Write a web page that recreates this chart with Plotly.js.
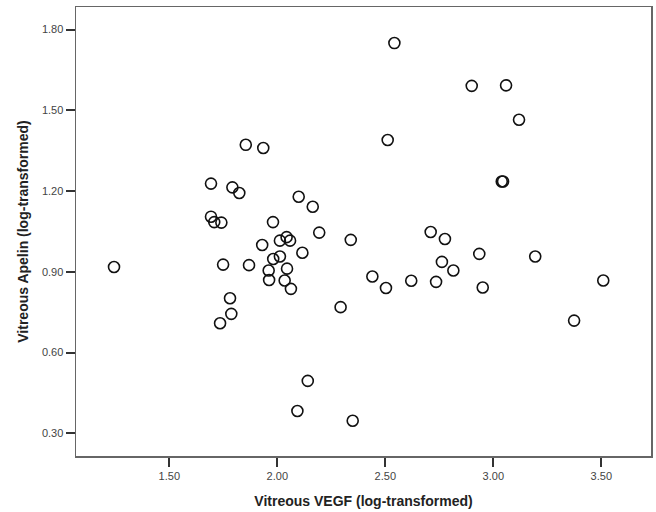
<!DOCTYPE html>
<html>
<head>
<meta charset="utf-8">
<script src="https://cdn.plot.ly/plotly-3.0.1.min.js"></script>
<style>html,body{margin:0;padding:0;background:#fff;}#chart{width:656px;height:512px;}</style>
</head>
<body>
<div id="chart"></div>
<script>
const vegf = [1.244,1.693,1.693,1.708,1.741,1.749,1.735,1.781,1.787,1.792,1.824,1.854,1.869,1.935,1.930,1.960,1.962,1.980,1.981,2.012,2.012,2.043,2.059,2.045,2.034,2.063,2.099,2.116,2.164,2.194,2.093,2.141,2.293,2.340,2.349,2.440,2.503,2.511,2.542,2.620,2.710,2.735,2.762,2.776,2.815,2.900,2.935,2.951,3.039,3.045,3.059,3.119,3.194,3.374,3.509];
const apelin = [0.918,1.228,1.105,1.085,1.083,0.927,0.709,0.802,0.744,1.214,1.193,1.372,0.925,1.360,1.000,0.905,0.870,1.085,0.948,0.957,1.016,1.029,1.016,0.912,0.868,0.837,1.179,0.971,1.142,1.046,0.383,0.495,0.769,1.019,0.347,0.883,0.840,1.390,1.750,0.867,1.048,0.863,0.937,1.022,0.905,1.591,0.967,0.842,1.236,1.236,1.593,1.465,0.957,0.719,0.868];
const xTicks = [1.5,2.0,2.5,3.0,3.5];
const yTicks = [0.3,0.6,0.9,1.2,1.5,1.8];
const xTitle = 'Vitreous VEGF (log-transformed)';
const yTitle = 'Vitreous Apelin (log-transformed)';

const trace = {
  x: vegf, y: apelin, type: 'scatter', mode: 'markers',
  marker: {symbol: 'circle-open', size: 11, color: '#111', line: {width: 1.6, color: '#111'}},
  hoverinfo: 'skip'
};
const axisCommon = {
  showgrid: false, zeroline: false, showline: true, mirror: true,
  linecolor: '#666', linewidth: 1.5, ticks: 'outside', ticklen: 9, tickwidth: 1.8, tickcolor: '#333',
  tickformat: '.2f', tickfont: {family: 'Liberation Sans, Arial, sans-serif', size: 11, color: '#444'}
};
const layout = {
  width: 656, height: 512,
  margin: {l: 76, r: 5, t: 7, b: 56},
  paper_bgcolor: '#fff', plot_bgcolor: '#fff',
  showlegend: false,
  xaxis: Object.assign({}, axisCommon, {
    range: [1.068, 3.730], tickvals: xTicks,
    title: {text: xTitle, standoff: 15, font: {family: 'Liberation Sans, Arial, sans-serif', size: 14, color: '#222', weight: 'bold'}}
  }),
  yaxis: Object.assign({}, axisCommon, {
    range: [0.216, 1.884], tickvals: yTicks,
    title: {text: yTitle, standoff: 10, font: {family: 'Liberation Sans, Arial, sans-serif', size: 14, color: '#222', weight: 'bold'}}
  })
};
Plotly.newPlot('chart', [trace], layout, {displayModeBar: false, staticPlot: true});
</script>
</body>
</html>
